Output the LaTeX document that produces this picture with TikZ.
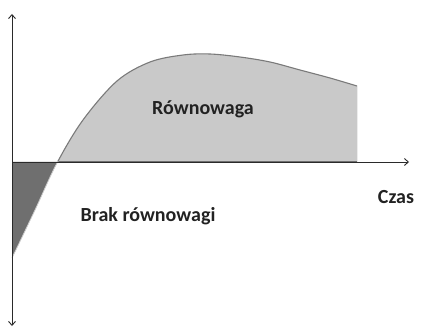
\documentclass[tikz,border=0pt]{standalone}
\usepackage{fontspec}
\setmainfont{Carlito}
\usetikzlibrary{arrows.meta}
\definecolor{lightfill}{HTML}{C9C9C9}
\definecolor{darkfill}{HTML}{6F6F6F}
\definecolor{curveline}{HTML}{7A7A7A}
\definecolor{axisline}{HTML}{2A2A2A}
\definecolor{txt}{HTML}{222222}
\tikzset{
  axis/.style={draw=axisline, line width=0.9pt},
  lbl/.style={text=txt, font=\bfseries\fontsize{20}{24}\selectfont, inner sep=0pt},
}
\begin{document}
\begin{tikzpicture}[x=1pt,y=-1pt]
\useasboundingbox (0,0) rectangle (425,328);
\def\curve{plot[smooth,tension=0.55] coordinates {(12,258) (35,210) (57,163) (83,120) (117,81) (150,62) (183,55) (210,54) (240,57) (270,62) (300,70) (330,78) (357,86)}}
% fills
\begin{scope}
  \clip (0,0) rectangle (425,162);
  \fill[lightfill] \curve -- (357,162) -- (12,162) -- cycle;
\end{scope}
\begin{scope}
  \clip (0,162) rectangle (425,328);
  \fill[darkfill] \curve -- (357,162) -- (12,162) -- cycle;
\end{scope}
\begin{scope}
  \clip (0,0) rectangle (425,162);
  \draw[curveline, line width=1.1pt] \curve;
\end{scope}
\begin{scope}
  \clip (0,162) rectangle (425,328);
  \draw[gray!40, line width=0.8pt] \curve;
\end{scope}
\draw[white!85!gray, line width=0.8pt] (357,86) -- (357,162);
% axes
\coordinate (o) at (12,162);
\coordinate (top) at (12,14);
\coordinate (bot) at (12,326);
\coordinate (right) at (409,162);
\draw[axis, {Straight Barb[length=4pt,width=7pt]}-{Straight Barb[length=4pt,width=7pt]}] (bot) -- (top);
\draw[axis, -{Straight Barb[length=4pt,width=7pt]}] (o) -- (right);
% labels
\node[lbl] (eq) at (203,109) {Równowaga};
\node[lbl] (neq) at (148,216) {Brak równowagi};
\node[lbl] (time) at (396,197) {Czas};
\end{tikzpicture}
\end{document}
